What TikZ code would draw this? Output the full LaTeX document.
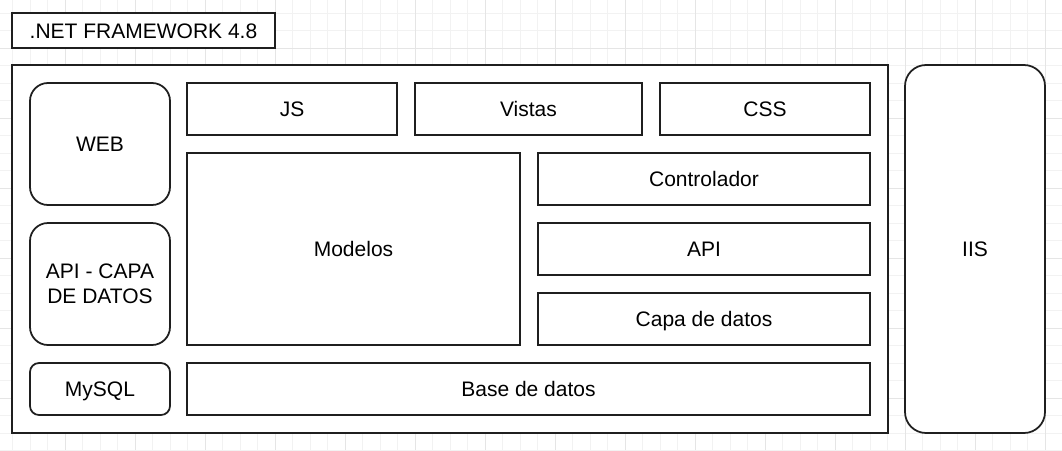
\documentclass[tikz,border=0pt]{standalone}
\usepackage{fontspec}
\setmainfont{Liberation Sans}
\begin{document}
\begin{tikzpicture}[x=1pt,y=-1pt,
  base/.style={draw=black!88,line width=1.75pt,fill=white,inner sep=2pt,outer sep=0pt,
    font=\fontsize{21}{25}\selectfont,align=center,text=black},
  box/.style={base,text height=15pt,text depth=0pt},
  rbox/.style={box,rounded corners=#1},
  rbox/.default=18pt,
  minorgrid/.style={draw=black!5,line width=0.9pt},
  majorgrid/.style={draw=black!10,line width=0.9pt}]
\useasboundingbox (0,0) rectangle (1062,450);
\fill[white] (0,0) rectangle (1062,450);
% grid
\foreach \k in {0,...,60} {\draw[minorgrid] ({12.5+17.5*\k},0) -- ({12.5+17.5*\k},450);}
\foreach \k in {0,...,25} {\draw[minorgrid] (0,{13.3+17.5*\k}) -- (1062,{13.3+17.5*\k});}
\foreach \k in {0,...,14} {\draw[majorgrid] ({65+70*\k},0) -- ({65+70*\k},450);}
\foreach \k in {0,...,6} {\draw[majorgrid] (0,{48.3+70*\k}) -- (1062,{48.3+70*\k});}
% nodes
\node[box,minimum width=263pt,minimum height=35pt] (net) at (143.5,30.5) {.NET FRAMEWORK 4.8};
\node[box,minimum width=876pt,minimum height=368pt] (outer) at (450,249) {};
\node[rbox,minimum width=140pt,minimum height=122pt] (web) at (100,144) {WEB};
\node[base,rounded corners=18pt,minimum width=140pt,minimum height=122pt] (apicd) at (100,284) {API - CAPA\\DE DATOS};
\node[rbox=9pt,minimum width=140pt,minimum height=52pt] (mysql) at (100,389) {MySQL};
\node[box,minimum width=210pt,minimum height=52pt] (js) at (292,109) {JS};
\node[box,minimum width=227pt,minimum height=52pt] (vistas) at (528.5,109) {Vistas};
\node[box,minimum width=210pt,minimum height=52pt] (css) at (765,109) {CSS};
\node[box,minimum width=333pt,minimum height=192pt] (modelos) at (353.5,249) {Modelos};
\node[box,minimum width=332pt,minimum height=52pt] (ctrl) at (704,179) {Controlador};
\node[box,minimum width=332pt,minimum height=52pt] (api) at (704,249) {API};
\node[box,minimum width=332pt,minimum height=52pt] (capa) at (704,319) {Capa de datos};
\node[box,minimum width=683pt,minimum height=52pt] (base) at (528.5,389) {Base de datos};
\node[rbox=21pt,minimum width=140pt,minimum height=368pt] (iis) at (975,249) {IIS};
\end{tikzpicture}
\end{document}
